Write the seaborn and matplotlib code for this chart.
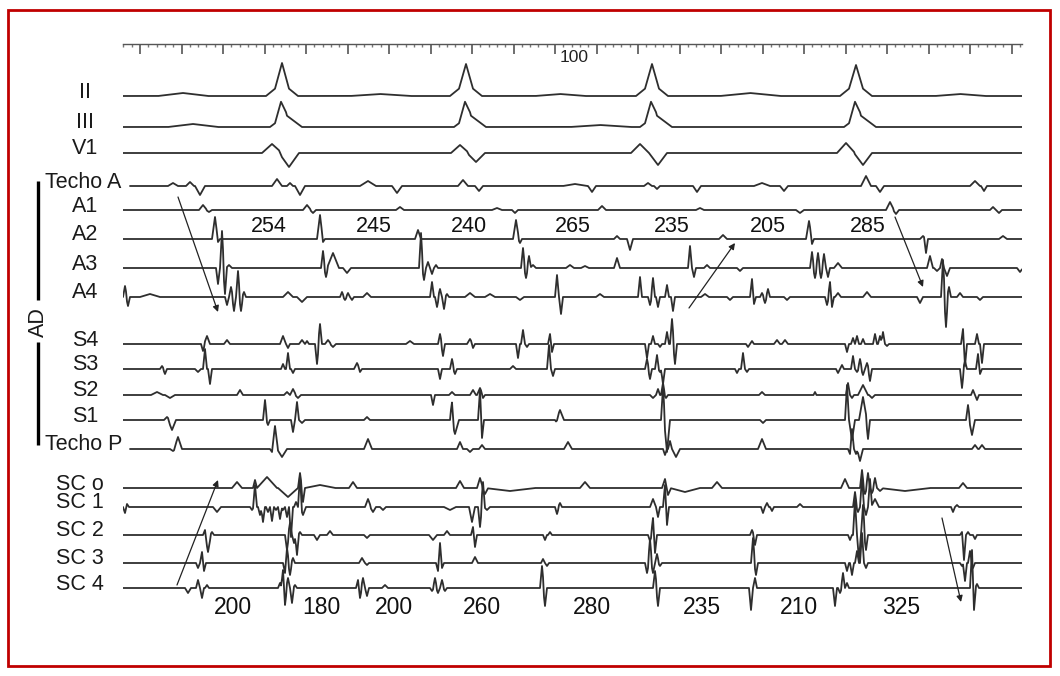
import numpy as np
import pandas as pd
import matplotlib
matplotlib.use("Agg")
import matplotlib.pyplot as plt
from matplotlib.patches import Rectangle
from matplotlib.ticker import MultipleLocator, AutoMinorLocator
import seaborn as sns

sns.set_theme(style="white")
plt.rcParams["font.family"] = ["Liberation Sans", "DejaVu Sans"]

# canales del registro (de arriba a abajo) y su línea de base
channels = ["II", "III", "V1", "Techo A", "A1", "A2", "A3", "A4",
            "S4", "S3", "S2", "S1", "Techo P",
            "SC o", "SC 1", "SC 2", "SC 3", "SC 4"]
baselines = [96, 127, 153, 186, 210, 239, 268, 297,
             344, 369, 395, 420, 449,
             488, 507, 535, 563, 588]
trace_start = [123, 123, 123, 130, 123, 123, 123, 123,
               123, 123, 123, 123, 130,
               123, 123, 123, 123, 123]
trace_end = 1022

ev_ii = [(183, 3, 25), (282, 20, 7), (282, 13, 16), (380, 2, 30),
         (466, 19, 7), (466, 13, 16), (560, 2, 25),
         (652, 19, 7), (652, 13, 16), (750, 3, 30),
         (856, 18, 7), (856, 13, 16), (960, 2, 25)]
ev_iii = [(193, 3, 25), (281, 17, 6), (286, 12, 16), (465, 17, 6), (470, 12, 16),
          (600, 2, 30), (651, 17, 6), (656, 12, 16), (855, 17, 6), (860, 12, 16)]
ev_v1 = [(272, 9, 10), (289, -14, 10), (460, 8, 9), (476, -9, 9), (640, 9, 9),
         (658, -12, 9), (846, 10, 9), (863, -12, 9)]
ev_techo_a = [(173, 3, 5), (190, 4, 4), (200, -9, 5), (277, 7, 5), (290, 3, 3),
              (300, -9, 5), (368, 5, 8), (397, -7, 5), (463, 6, 5), (479, -5, 4),
              (575, 2, 12), (592, -6, 4), (648, 3, 4), (657, -3, 3), (697, -6, 4),
              (762, 3, 8), (784, -5, 4), (866, 10, 5), (880, -6, 4), (975, 5, 5),
              (984, -5, 3)]
ev_a1 = [(203, 5, 4), (209, -2, 3), (307, 5, 4), (313, -3, 3), (400, 3, 4),
         (497, 2, 5), (515, -3, 3), (602, 4, 4), (700, 2, 4), (800, -3, 4),
         (890, 8, 4), (896, -4, 3), (993, 3, 3), (999, -3, 3)]
ev_a2 = [(215, 22, 3), (218, -3, 2), (320, 24, 3), (323, -3, 2), (418, 9, 3),
         (516, 19, 3), (520, -4, 2), (617, 3, 3), (630, -11, 3), (723, 4, 4),
         (809, 18, 3), (812, -5, 2), (923, 3, 3), (926, -14, 2), (1003, 3, 4)]
ev_a3 = [(218, -16, 2), (222, 37, 2), (225, -26, 2), (229, 3, 3), (323, 17, 2),
         (326, -9, 2), (333, 15, 6), (347, -5, 4), (421, 35, 2), (424, -12, 2),
         (428, 6, 2), (432, -6, 2), (436, 3, 2), (523, 20, 2), (526, -10, 2),
         (529, 12, 2), (533, 3, 3), (570, 3, 4), (585, 2, 4), (617, 10, 3),
         (690, 22, 2), (694, -9, 2), (707, 3, 3), (740, -3, 3), (812, 16, 2),
         (815, -10, 2), (818, 15, 2), (821, -10, 2), (824, 14, 2), (828, -9, 2),
         (838, 5, 4), (930, 12, 3), (937, -3, 3), (942, 9, 2), (947, -8, 3),
         (1020, -4, 3)]
ev_a4 = [(125, 11, 2), (128, -9, 2), (150, 3, 10), (227, -8, 2), (231, 10, 2),
         (234, -14, 2), (238, 26, 2), (241, -14, 2), (244, 5, 2), (288, 5, 5),
         (302, -5, 5), (342, 5, 2), (345, -3, 2), (348, 4, 2), (352, -3, 2),
         (367, 4, 4), (432, 15, 2), (437, -10, 2), (440, 8, 2), (444, -12, 2),
         (447, 3, 2), (470, 4, 5), (490, 3, 5), (520, -3, 4), (557, 22, 2),
         (561, -17, 2), (600, 3, 4), (640, 20, 2), (650, -8, 2), (653, 19, 2),
         (658, -10, 2), (667, 12, 2), (673, -14, 2), (705, 3, 4), (730, -3, 3),
         (752, 18, 2), (754, -7, 2), (762, 4, 2), (765, -6, 2), (768, 8, 2),
         (787, -3, 3), (827, -8, 2), (830, 15, 2), (832, -10, 2), (838, 4, 3),
         (867, 5, 4), (920, -6, 3), (943, 37, 2), (946, -30, 2), (949, 10, 2),
         (960, 4, 3), (980, -3, 3)]
ev_s4 = [(203, -7, 2), (207, 8, 3), (227, 4, 3), (283, 8, 3), (288, -4, 2),
         (302, 4, 3), (307, 3, 2), (317, -20, 2), (320, 20, 2), (328, 4, 3),
         (333, -3, 3), (410, 3, 4), (440, 10, 2), (443, -12, 2), (470, 5, 3),
         (473, -4, 2), (518, -14, 2), (523, 14, 2), (527, -3, 2), (550, 10, 2),
         (552, -8, 2), (647, -14, 2), (653, 8, 2), (660, -3, 2), (667, 12, 2),
         (672, 25, 2), (675, -20, 2), (748, -3, 2), (752, 3, 2), (777, 4, 3),
         (785, 4, 3), (847, -8, 2), (853, 6, 2), (857, 8, 2), (863, 5, 2),
         (875, 10, 2), (880, 8, 2), (883, 12, 2), (887, -2, 2), (963, 15, 2),
         (965, -22, 2), (977, 10, 2), (982, -19, 2)]
ev_s3 = [(162, 3, 2), (165, -5, 2), (198, -3, 3), (205, 20, 2), (210, -15, 2),
         (283, 5, 2), (288, 16, 2), (293, -4, 2), (357, 6, 3), (360, -3, 2),
         (440, -10, 2), (452, 10, 2), (455, -5, 2), (513, 3, 3), (549, 24, 2),
         (553, -7, 2), (647, 10, 2), (650, -10, 2), (657, 14, 2), (660, -3, 2),
         (663, -15, 2), (737, -4, 2), (743, 16, 2), (747, -3, 2), (838, -4, 2),
         (842, 4, 2), (853, 13, 2), (857, -3, 2), (860, 10, 2), (863, -6, 2),
         (867, 6, 2), (870, -12, 2), (962, -19, 2), (965, 8, 2), (978, 15, 2),
         (980, -5, 2)]
ev_s2 = [(157, 3, 6), (170, -3, 5), (240, 5, 3), (287, 3, 3), (293, 6, 3),
         (298, -3, 3), (433, -10, 2), (452, 3, 3), (473, 5, 3), (480, 7, 3),
         (483, -3, 2), (653, -3, 3), (658, 6, 2), (663, 12, 2), (666, -3, 2),
         (762, 3, 3), (815, 3, 1.5), (848, 12, 2), (852, -3, 2), (863, 10, 5),
         (872, -3, 3), (973, 5, 2), (977, -5, 2)]
ev_s1 = [(167, 3, 3), (172, -10, 4), (265, 20, 2), (268, -5, 2), (293, -12, 2),
         (297, 18, 2), (302, -3, 3), (367, 3, 3), (452, 21, 2), (455, -14, 4),
         (480, 30, 2), (482, -18, 2), (557, -3, 2), (560, 10, 4), (663, 33, 2),
         (667, -32, 3), (763, -3, 3), (847, 35, 2), (852, -20, 3), (863, 23, 4),
         (868, -19, 2), (968, 15, 2), (972, -15, 3)]
ev_techo_p = [(173, -2, 3), (178, 12, 4), (272, -3, 2), (275, 23, 3), (282, -8, 5),
              (368, 10, 4), (460, 7, 3), (470, -3, 3), (482, 4, 3), (568, 7, 4),
              (665, -6, 2), (670, 8, 2), (676, -8, 4), (762, 10, 4), (850, -5, 2),
              (852, 20, 2), (856, -5, 2), (860, -12, 3), (975, 4, 3), (982, 4, 3)]
ev_sc_o = [(237, 6, 5), (255, 8, 2), (267, 11, 10), (288, -9, 10), (300, 15, 2),
           (303, -14, 2), (320, 3, 15), (353, 6, 4), (460, 7, 4), (480, 10, 3),
           (485, -6, 3), (510, -3, 25), (585, 6, 5), (665, 9, 3), (668, -7, 3),
           (685, -4, 15), (717, 6, 5), (845, 9, 4), (862, 18, 2), (865, -6, 2),
           (868, 15, 2), (872, -5, 2), (875, 10, 2), (880, -3, 3), (905, -3, 25),
           (963, 5, 4)]
ev_sc_1 = [(125, -6, 2), (127, 3, 2), (217, -5, 4), (252, -3, 2), (255, 22, 2),
           (260, -8, 2), (263, -15, 2), (268, -5, 2), (272, -14, 2), (276, -3, 2),
           (280, -12, 2), (283, -3, 2), (287, -10, 2), (291, -30, 2), (296, 5, 2),
           (300, 32, 2), (303, -8, 3), (368, 8, 3), (373, -5, 3), (383, -3, 3),
           (450, -3, 6), (472, -15, 3), (480, -20, 2), (483, 25, 2), (487, -3, 3),
           (557, -7, 2), (560, 4, 2), (653, 8, 3), (658, -10, 2), (665, 22, 2),
           (667, -18, 2), (763, -6, 2), (767, 4, 2), (772, -4, 2), (800, 3, 3),
           (855, 15, 2), (858, -5, 2), (862, 30, 2), (866, -8, 2), (870, 28, 2),
           (875, 8, 4), (953, -5, 2), (957, 2, 2)]
ev_sc_2 = [(205, 5, 2), (208, -17, 3), (212, 3, 2), (287, -15, 2), (290, 12, 2),
           (294, -8, 2), (297, -20, 2), (300, 3, 2), (317, -5, 3), (330, 4, 3),
           (367, -3, 3), (433, -5, 4), (447, 4, 3), (473, 8, 2), (475, -12, 2),
           (545, -5, 2), (550, 3, 2), (650, -6, 2), (653, 17, 2), (655, -18, 2),
           (752, 5, 2), (755, -10, 2), (850, -5, 2), (855, 35, 2), (859, -25, 2),
           (863, 30, 2), (866, -15, 2), (962, 3, 2), (964, -25, 2), (968, 3, 2),
           (975, -4, 2)]
ev_sc_3 = [(198, -5, 2), (202, 11, 2), (204, -8, 2), (285, -10, 2), (287, 15, 2),
           (290, -12, 2), (293, 5, 2), (362, 5, 3), (367, -2, 2), (438, -8, 2),
           (440, 20, 2), (442, -5, 2), (475, 6, 3), (543, 4, 2), (547, -3, 2),
           (647, -10, 2), (650, 24, 2), (653, -10, 2), (657, 9, 2), (660, -3, 2),
           (753, 25, 2), (756, -12, 2), (847, -8, 2), (852, -12, 2), (857, 12, 2),
           (862, 30, 2), (866, -5, 2), (962, -3, 2), (965, -18, 2), (970, 12, 2),
           (973, -5, 2)]
ev_sc_4 = [(188, -5, 3), (198, 8, 2), (202, -10, 2), (207, 3, 2), (280, 5, 2),
           (283, 18, 2), (285, -17, 2), (288, 10, 2), (292, -15, 2), (295, 3, 2),
           (358, 8, 2), (360, -10, 2), (363, 10, 2), (367, -8, 2), (385, 3, 3),
           (432, -3, 2), (435, 10, 2), (438, -5, 2), (442, 8, 2), (445, -3, 2),
           (542, 22, 2), (545, -18, 2), (655, 17, 2), (658, -18, 2), (751, -22, 2),
           (755, 10, 2), (835, -18, 2), (840, -5, 2), (843, 15, 2), (847, 5, 2),
           (972, 38, 2), (974, -22, 2), (977, 4, 2)]

channel_events = [ev_ii, ev_iii, ev_v1, ev_techo_a, ev_a1, ev_a2, ev_a3, ev_a4,
                  ev_s4, ev_s3, ev_s2, ev_s1, ev_techo_p,
                  ev_sc_o, ev_sc_1, ev_sc_2, ev_sc_3, ev_sc_4]

# intervalos (ms) anotados
top_intervals = ["254", "245", "240", "265", "235", "205", "285"]
top_interval_t = [269, 374, 469, 573, 672, 768, 868]
bottom_intervals = ["200", "180", "200", "260", "280", "235", "210", "325"]
bottom_interval_t = [233, 321, 394, 482, 592, 702, 799, 901]

# flechas (cola -> punta)
arrow_tails = [(178, 197), (689, 308), (895, 217), (177, 585), (942, 518)]
arrow_heads = [(218, 312), (735, 243), (923, 287), (218, 480), (961, 602)]


def build_traces():
    rows = []
    for name, base, start, events in zip(channels, baselines, trace_start, channel_events):
        t = np.arange(start, trace_end + 0.5, 0.5)
        y = np.zeros_like(t)
        for tc, amp, hw in events:
            y += np.interp(t, [tc - hw, tc, tc + hw], [0, amp, 0])
        rows.append(pd.DataFrame({"t": t, "v": base - y, "canal": name}))
    return pd.concat(rows, ignore_index=True)


def main():
    W, H = 1060, 676
    fig = plt.figure(figsize=(W / 100, H / 100), dpi=100)
    fig.patch.set_facecolor("white")

    top, bottom = 44, 640
    ax = fig.add_axes([123 / W, 1 - bottom / H, (trace_end - 123) / W, (bottom - top) / H])

    df = build_traces()
    sns.lineplot(data=df, x="t", y="v", units="canal", estimator=None, sort=False,
                 color="#2e2e2e", lw=1.3, ax=ax, legend=False)

    ax.set_xlim(123, trace_end)
    ax.set_ylim(bottom, top)
    ax.set_xlabel("")
    ax.set_ylabel("")
    ax.set_facecolor("none")
    for side in ["left", "right", "bottom"]:
        ax.spines[side].set_visible(False)
    ax.spines["top"].set_color("#555555")
    ax.spines["top"].set_linewidth(1.0)

    # regla de tiempo arriba
    ax.xaxis.set_ticks_position("top")
    ax.xaxis.set_major_locator(MultipleLocator(41.5, offset=15.5))
    ax.xaxis.set_minor_locator(AutoMinorLocator(5))
    ax.tick_params(axis="x", which="major", direction="in", length=7, width=1.2,
                   colors="#555555", labeltop=False, labelbottom=False)
    ax.tick_params(axis="x", which="minor", direction="in", length=2.5, width=1,
                   colors="#777777")
    ax.set_yticks([])
    ax.text(574, 58, "100", fontsize=12.5, ha="center", va="center", color="#222222")

    # nombres de canales
    for name, base in zip(channels, baselines):
        if name.startswith("Techo"):
            x, ha = 45, "left"
        elif name.startswith("SC"):
            x, ha = 56, "left"
        else:
            x, ha = 85, "center"
        ax.text(x, base - 4, name, fontsize=15.5, ha=ha, va="center",
                color="#1a1a1a", clip_on=False)

    # barra AD
    ax.plot([38, 38], [181, 300], color="black", lw=2.4, clip_on=False,
            solid_capstyle="butt")
    ax.plot([38, 38], [342, 445], color="black", lw=2.4, clip_on=False,
            solid_capstyle="butt")
    ax.text(38, 322, "AD", fontsize=15.5, rotation=90, ha="center", va="center",
            color="#1a1a1a", clip_on=False)

    for lab, t in zip(top_intervals, top_interval_t):
        ax.text(t, 226, lab, fontsize=15.5, ha="center", va="center", color="#111111")
    for lab, t in zip(bottom_intervals, bottom_interval_t):
        ax.text(t, 607, lab, fontsize=16.5, ha="center", va="center", color="#111111")

    for tail, head in zip(arrow_tails, arrow_heads):
        ax.annotate("", xy=head, xytext=tail, annotation_clip=False,
                    arrowprops=dict(arrowstyle="-|>", color="#222222", lw=0.9,
                                    mutation_scale=9, shrinkA=0, shrinkB=0))

    # marco rojo
    fig.add_artist(Rectangle((8 / W, 1 - 666 / H), (1050 - 8) / W, (666 - 10) / H,
                             transform=fig.transFigure, fill=False,
                             edgecolor="#C00000", lw=2.0))

    fig.savefig("out.png", dpi=100)


if __name__ == "__main__":
    main()
